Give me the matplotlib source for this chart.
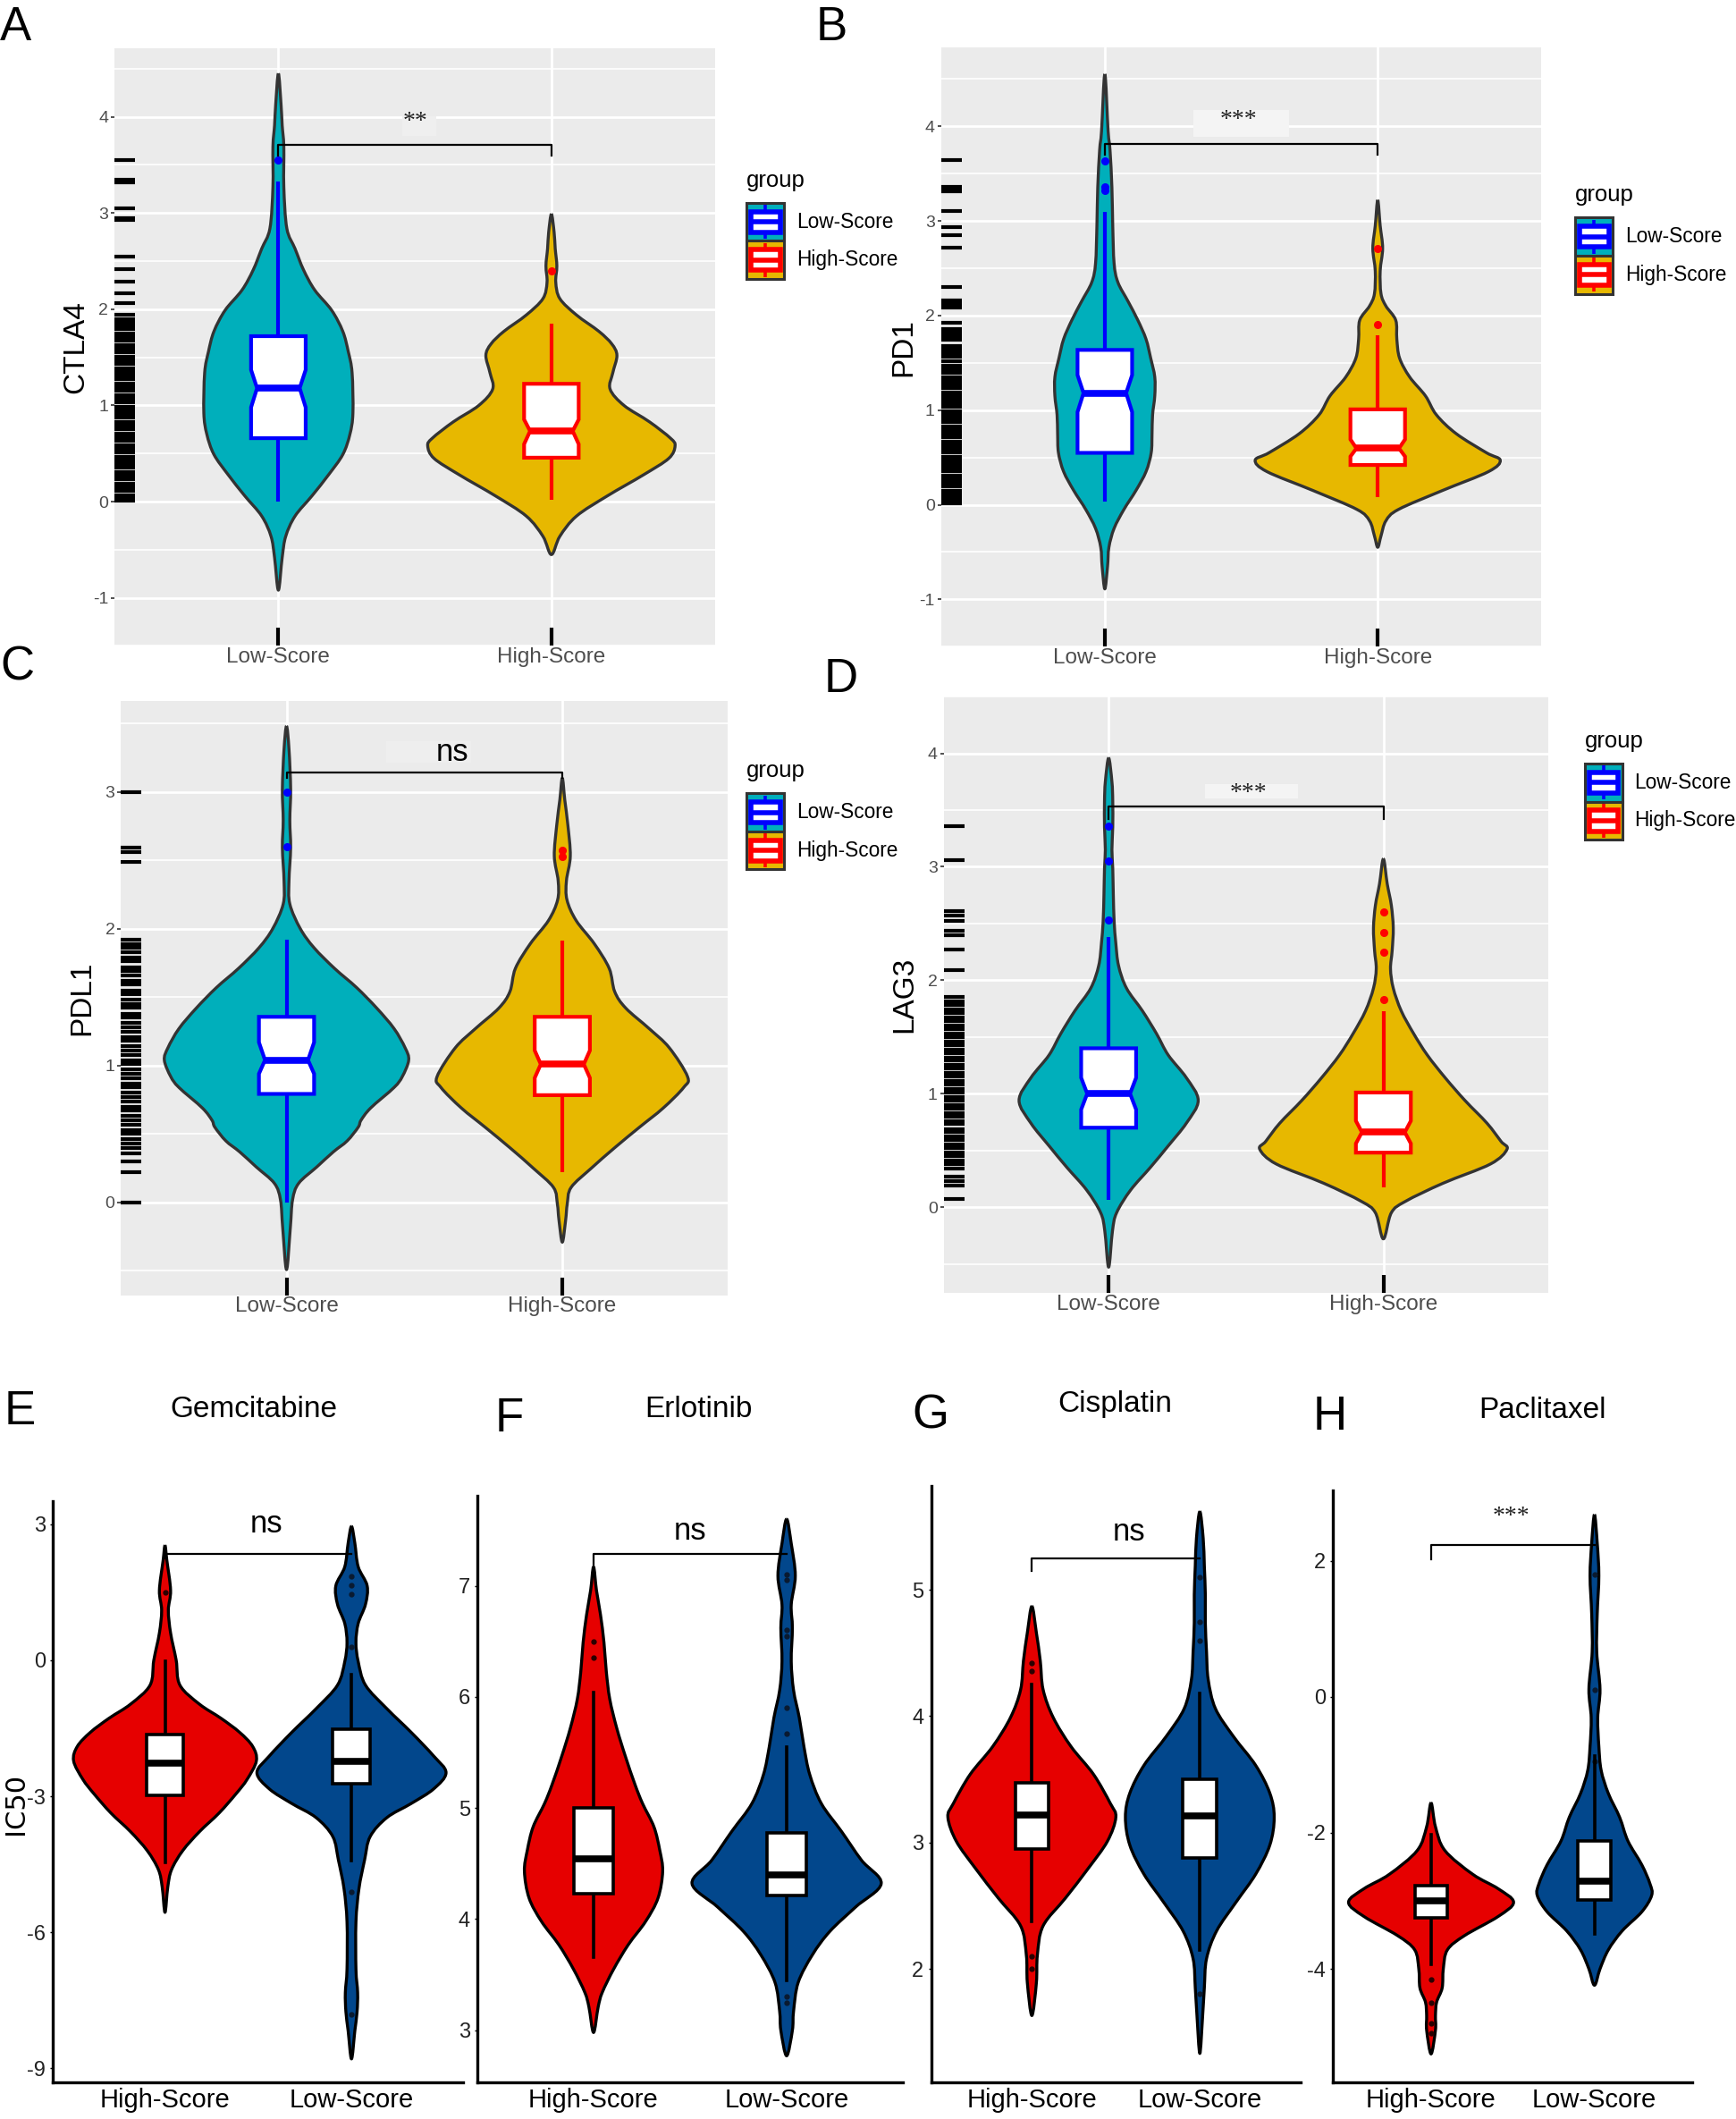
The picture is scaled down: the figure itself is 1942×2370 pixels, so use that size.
import numpy as np
import matplotlib
matplotlib.use("Agg")
import matplotlib.pyplot as plt
from matplotlib.patches import Rectangle, Polygon, PathPatch
from matplotlib.path import Path

plt.rcParams['font.family'] = ['Liberation Sans', 'DejaVu Sans']
plt.rcParams['axes.unicode_minus'] = False

# ---------------------------------------------------------------- data
top_groups = ["Low-Score", "High-Score"]
top_genes = ["CTLA4", "PD1", "PDL1", "LAG3"]
bottom_groups = ["High-Score", "Low-Score"]
drugs = ["Gemcitabine", "Erlotinib", "Cisplatin", "Paclitaxel"]
top_sig = ["**", "***", "ns", "***"]
bottom_sig = ["ns", "ns", "ns", "***"]

# violin profiles (value, half width)
A_low_y = [4.45, 4.12, 3.91, 3.69, 3.27, 2.84, 2.63, 2.41, 2.20, 1.99, 1.77, 1.56, 1.34, 0.92, 0.70, 0.49, 0.28, 0.06, -0.15, -0.36, -0.58, -0.92]
A_low_w = [0, .010, .014, .020, .020, .031, .061, .092, .133, .195, .236, .256, .270, .273, .262, .236, .184, .123, .061, .027, .014, 0]
A_high_y = [2.99, 2.80, 2.63, 2.45, 2.28, 2.11, 1.94, 1.77, 1.64, 1.52, 1.34, 1.17, 1.00, 0.83, 0.66, 0.58, 0.45, 0.28, 0.06, -0.15, -0.36, -0.55]
A_high_w = [0, .010, .014, .020, .016, .031, .092, .174, .221, .240, .225, .215, .266, .359, .436, .453, .430, .338, .205, .092, .031, 0]

B_low_y = [4.55, 3.95, 3.75, 3.35, 2.95, 2.55, 2.35, 2.15, 1.95, 1.75, 1.55, 1.35, 1.15, 0.95, 0.75, 0.55, 0.35, 0.15, -0.05, -0.25, -0.45, -0.65, -0.89]
B_low_w = [0, .012, .019, .026, .029, .034, .048, .085, .121, .151, .168, .183, .183, .175, .173, .170, .151, .114, .070, .034, .015, .010, 0]
B_high_y = [3.22, 2.95, 2.71, 2.47, 2.23, 2.10, 1.95, 1.75, 1.55, 1.35, 1.15, 0.95, 0.75, 0.55, 0.47, 0.35, 0.15, -0.05, -0.17, -0.33, -0.45]
B_high_w = [0, .009, .018, .009, .012, .030, .066, .070, .080, .117, .175, .215, .288, .398, .449, .406, .237, .076, .030, .012, 0]

C_low_y = [3.48, 3.31, 3.02, 2.79, 2.59, 2.35, 2.18, 2.00, 1.86, 1.71, 1.57, 1.42, 1.27, 1.13, 1.04, 0.92, 0.84, 0.69, 0.60, 0.55, 0.45, 0.37, 0.26, 0.14, 0.02, -0.18, -0.49]
C_low_w = [0, .009, .015, .012, .015, .009, .012, .050, .100, .174, .254, .327, .390, .430, .443, .420, .390, .305, .270, .260, .220, .170, .110, .044, .022, .014, 0]
C_high_y = [3.10, 2.94, 2.76, 2.53, 2.35, 2.21, 2.06, 1.89, 1.71, 1.54, 1.42, 1.27, 1.13, 0.92, 0.84, 0.69, 0.55, 0.40, 0.25, 0.11, -0.01, -0.13, -0.29]
C_high_w = [0, .009, .020, .029, .015, .017, .050, .116, .170, .190, .230, .315, .388, .454, .440, .366, .280, .190, .105, .032, .018, .012, 0]

D_low_y = [3.96, 3.75, 3.58, 3.35, 3.15, 2.99, 2.76, 2.52, 2.33, 2.13, 1.93, 1.73, 1.53, 1.34, 1.14, 0.94, 0.74, 0.54, 0.35, 0.15, -0.05, -0.21, -0.53]
D_low_w = [0, .012, .015, .015, .012, .015, .017, .020, .026, .036, .065, .123, .174, .217, .283, .326, .283, .217, .152, .080, .029, .014, 0]
D_high_y = [3.07, 2.85, 2.66, 2.46, 2.26, 2.10, 1.93, 1.73, 1.53, 1.34, 1.14, 0.94, 0.74, 0.58, 0.51, 0.38, 0.21, 0.05, -0.05, -0.28]
D_high_w = [0, .014, .029, .036, .032, .026, .036, .065, .110, .160, .225, .297, .377, .428, .450, .390, .217, .080, .029, 0]

# boxes: whisker low, q1, median, q3, whisker high, notch low, notch high
A_low_box = [0.00, 0.66, 1.18, 1.72, 3.33, 0.98, 1.37]
A_high_box = [0.02, 0.457, 0.734, 1.225, 1.85, 0.598, 0.854]
B_low_box = [0.03, 0.548, 1.18, 1.636, 3.09, 0.98, 1.37]
B_high_box = [0.076, 0.42, 0.596, 1.008, 1.79, 0.51, 0.69]
C_low_box = [0.00, 0.793, 1.04, 1.356, 1.92, 0.94, 1.17]
C_high_box = [0.22, 0.784, 1.01, 1.356, 1.91, 0.91, 1.11]
D_low_box = [0.066, 0.70, 1.00, 1.40, 2.38, 0.86, 1.14]
D_high_box = [0.175, 0.48, 0.66, 1.01, 1.73, 0.56, 0.76]

A_low_out = [3.55]
A_high_out = [2.40]
B_low_out = [3.32, 3.36, 3.63]
B_high_out = [1.90, 2.71]
C_low_out = [2.60, 3.00]
C_high_out = [2.53, 2.57]
D_low_out = [2.53, 3.05, 3.36]
D_high_out = [1.83, 2.25, 2.42, 2.60]

# rug (all values of the gene)
A_rug = [3.55, 3.35, 3.32, 3.05, 2.95, 2.93, 2.55, 2.42, 2.29, 2.17, 2.06,
         1.94, 1.90, 1.87, 1.83, 1.79, 1.75, 1.71, 1.67, 1.63, 1.59, 1.55, 1.51, 1.47, 1.43,
         1.39, 1.35, 1.31, 1.27, 1.23, 1.19, 1.15, 1.11, 1.07, 1.03, 0.99, 0.95, 0.91, 0.87,
         0.83, 0.79, 0.75, 0.71, 0.67, 0.63, 0.59, 0.55, 0.51, 0.47, 0.43, 0.39, 0.35, 0.31,
         0.27, 0.23, 0.19, 0.15, 0.11, 0.07, 0.04, 0.01]
B_rug = [3.64, 3.36, 3.33, 3.31, 3.10, 2.93, 2.85, 2.72, 2.30, 2.16, 2.12, 2.08, 1.92,
         1.86, 1.82, 1.78, 1.74, 1.68, 1.64, 1.60, 1.56, 1.52, 1.47, 1.43, 1.39, 1.35, 1.31,
         1.27, 1.23, 1.19, 1.15, 1.11, 1.07, 1.03, 0.99, 0.95, 0.91, 0.87, 0.83, 0.79, 0.75,
         0.71, 0.67, 0.63, 0.59, 0.55, 0.51, 0.47, 0.43, 0.39, 0.35, 0.31, 0.27, 0.23, 0.19,
         0.15, 0.11, 0.07, 0.04, 0.01]
C_rug = [3.00, 2.59, 2.56, 2.49,
         1.92, 1.89, 1.86, 1.83, 1.79, 1.76, 1.72, 1.69, 1.66, 1.62, 1.59, 1.55, 1.52, 1.48,
         1.45, 1.42, 1.38, 1.35, 1.31, 1.28, 1.25, 1.21, 1.18, 1.14, 1.11, 1.08, 1.04, 1.01,
         0.97, 0.94, 0.91, 0.87, 0.84, 0.80, 0.77, 0.74, 0.70, 0.67, 0.63, 0.60, 0.57, 0.53,
         0.50, 0.46, 0.43, 0.40, 0.36, 0.30, 0.22, 0.00]
D_rug = [3.36, 3.06, 2.61, 2.57, 2.52, 2.44, 2.40, 2.27, 2.09,
         1.85, 1.81, 1.78, 1.74, 1.71, 1.67, 1.64, 1.60, 1.57, 1.53, 1.50, 1.46, 1.43, 1.39,
         1.36, 1.32, 1.29, 1.25, 1.22, 1.18, 1.15, 1.11, 1.08, 1.04, 1.01, 0.97, 0.94, 0.90,
         0.87, 0.83, 0.80, 0.76, 0.73, 0.69, 0.66, 0.62, 0.59, 0.55, 0.52, 0.48, 0.45, 0.41,
         0.38, 0.34, 0.27, 0.23, 0.19, 0.07]

# significance bracket: y, left tick end, right tick end, label x, label y
A_bracket = [3.71, 3.60, 3.60, 1.50, 3.95]
B_bracket = [3.81, 3.70, 3.70, 1.49, 4.06]
C_bracket = [3.14, 3.10, 3.10, 1.60, 3.29]
D_bracket = [3.53, 3.42, 3.42, 1.51, 3.65]
# faint label backgrounds: x0, x1, y0, y1
A_label_bg = [1.455, 1.578, 3.80, 4.01]
B_label_bg = [1.325, 1.675, 3.89, 4.17]
C_label_bg = [1.36, 1.67, 3.21, 3.37]
D_label_bg = [1.35, 1.69, 3.60, 3.73]

# bottom panels (High-Score first, Low-Score second)
E_high_y = [2.53, 2.20, 1.54, 1.10, 0.60, 0.00, -0.55, -0.97, -1.28, -1.59, -1.90, -2.22, -2.63, -2.95, -3.37, -3.78, -4.20, -4.62, -5.00, -5.56]
E_high_w = [0, .010, .030, .018, .030, .060, .080, .185, .300, .400, .470, .490, .440, .380, .290, .185, .095, .035, .015, 0]
E_low_y = [2.95, 2.58, 2.06, 1.64, 1.23, 0.81, 0.39, -0.03, -0.55, -1.07, -1.59, -2.11, -2.48, -2.84, -3.16, -3.47, -3.89, -4.41, -5.04, -5.77, -6.81, -7.33, -7.75, -8.17, -8.79]
E_low_w = [0, .018, .036, .084, .075, .036, .024, .036, .075, .190, .320, .440, .507, .440, .320, .190, .100, .070, .040, .024, .024, .033, .030, .018, 0]
F_high_y = [7.17, 6.96, 6.74, 6.49, 6.23, 5.98, 5.72, 5.47, 5.21, 5.04, 4.83, 4.62, 4.43, 4.19, 3.98, 3.77, 3.55, 3.34, 3.21, 2.98]
F_high_w = [0, .015, .036, .054, .066, .084, .120, .164, .215, .254, .313, .343, .358, .334, .270, .180, .104, .045, .024, 0]
F_low_y = [7.60, 7.38, 7.09, 6.83, 6.62, 6.32, 6.06, 5.81, 5.55, 5.30, 5.04, 4.79, 4.53, 4.32, 4.11, 3.89, 3.68, 3.43, 3.17, 3.00, 2.77]
F_low_w = [0, .024, .045, .024, .030, .024, .036, .066, .090, .120, .180, .284, .388, .490, .358, .224, .134, .060, .036, .030, 0]
G_high_y = [4.87, 4.66, 4.44, 4.21, 3.99, 3.76, 3.54, 3.31, 3.20, 3.01, 2.79, 2.56, 2.34, 2.11, 1.89, 1.63]
G_high_w = [0, .027, .050, .067, .127, .233, .367, .467, .500, .450, .333, .200, .067, .033, .027, 0]
G_low_y = [5.62, 5.41, 5.19, 4.96, 4.74, 4.51, 4.29, 4.06, 3.84, 3.61, 3.39, 3.20, 2.98, 2.75, 2.53, 2.30, 2.08, 1.85, 1.63, 1.33]
G_low_w = [0, .020, .027, .033, .033, .040, .050, .093, .200, .333, .417, .443, .417, .333, .217, .100, .040, .027, .017, 0]
H_high_y = [-1.56, -1.91, -2.26, -2.61, -2.82, -3.02, -3.23, -3.51, -3.72, -4.00, -4.28, -4.49, -4.69, -4.90, -5.25]
H_high_w = [0, .027, .085, .256, .410, .505, .410, .205, .100, .075, .068, .034, .027, .027, 0]
H_low_y = [2.68, 2.26, 1.78, 1.22, 0.66, 0.11, -0.31, -0.73, -1.08, -1.42, -1.77, -2.12, -2.47, -2.75, -2.92, -3.16, -3.44, -3.72, -4.00, -4.24]
H_low_w = [0, .017, .027, .017, .014, .034, .020, .027, .041, .085, .154, .205, .290, .340, .350, .290, .170, .085, .034, 0]

# boxes: whisker low, q1, median, q3, whisker high
E_high_box = [-4.46, -2.98, -2.27, -1.64, -0.02]
E_low_box = [-4.41, -2.72, -2.24, -1.52, -0.32]
F_high_box = [3.66, 4.23, 4.54, 5.00, 6.04]
F_low_box = [3.45, 4.21, 4.40, 4.78, 5.55]
G_high_box = [2.375, 2.95, 3.22, 3.47, 4.25]
G_low_box = [2.15, 2.88, 3.21, 3.50, 4.18]
H_high_box = [-3.93, -3.25, -3.00, -2.77, -2.02]
H_low_box = [-3.48, -2.99, -2.71, -2.12, -0.87]

E_high_out = [1.50]
E_low_out = [1.85, 1.65, 1.45, 0.30, -5.10, -7.80]
F_high_out = [6.35, 6.50]
F_low_out = [7.10, 7.05, 6.60, 6.55, 5.90, 5.67, 3.30, 3.25]
G_high_out = [4.36, 4.42, 2.10, 2.00]
G_low_out = [5.10, 4.75, 4.60, 1.80]
H_high_out = [-4.15, -4.50, -4.80, -4.95]
H_low_out = [1.80, 0.10, -0.95]

E_bracket = [2.35, 2.25, 2.35, 1.546, 3.00]
F_bracket = [7.29, 7.17, 7.29, 1.50, 7.49]
G_bracket = [5.25, 5.15, 5.25, 1.58, 5.46]
H_bracket = [2.23, 2.02, 2.23, 1.49, 2.65]

E_ticks = [-9, -6, -3, 0, 3]
F_ticks = [3, 4, 5, 6, 7]
G_ticks = [2, 3, 4, 5]
H_ticks = [-4, -2, 0, 2]
top_ticks = [[-1, 0, 1, 2, 3, 4], [-1, 0, 1, 2, 3, 4], [0, 1, 2, 3], [0, 1, 2, 3, 4]]

# ---------------------------------------------------------------- style
TEAL, GOLD = '#00AFBB', '#E7B800'
BLUE, RED = '#0000FF', '#FF0000'
VRED, VBLUE = '#E60000', '#02478C'
OUTLINE = '#333333'

W, H = 1285.0, 1568.0
fig = plt.figure(figsize=(19.42, 23.70), dpi=100)


def rect(l, t, r, b):
    return [l / W, 1 - b / H, (r - l) / W, (b - t) / H]


def smooth_closed_path(P):
    """Closed Catmull-Rom curve through the given outline points, as cubic Beziers."""
    P = np.asarray(P, float)
    n = len(P)
    verts = [P[0]]
    codes = [Path.MOVETO]
    for i in range(n):
        p0, p1, p2, p3 = P[i - 1], P[i], P[(i + 1) % n], P[(i + 2) % n]
        verts += [p1 + (p2 - p0) / 6.0, p2 - (p3 - p1) / 6.0, p2]
        codes += [Path.CURVE4] * 3
    return Path(verts, codes)


def violin(ax, x, ys, ws, fc, ec, lw):
    ys = np.asarray(ys, float)
    ws = np.asarray(ws, float)
    left = np.column_stack([x - ws, ys])
    right = np.column_stack([x + ws, ys])[::-1][1:-1]
    pts = np.vstack([left, right])
    ax.add_patch(PathPatch(smooth_closed_path(pts), facecolor=fc, edgecolor=ec, lw=lw,
                           joinstyle='round', zorder=2))


def notched(ax, x, box, col, hw=0.10, nf=0.78):
    lo, q1, med, q3, hi, nlo, nhi = box
    ax.plot([x, x], [lo, q1], color=col, lw=3.0, zorder=3, solid_capstyle='butt')
    ax.plot([x, x], [q3, hi], color=col, lw=3.0, zorder=3, solid_capstyle='butt')
    pts = [(x - hw, q1), (x - hw, nlo), (x - hw * nf, med), (x - hw, nhi), (x - hw, q3),
           (x + hw, q3), (x + hw, nhi), (x + hw * nf, med), (x + hw, nlo), (x + hw, q1)]
    ax.add_patch(Polygon(pts, closed=True, facecolor='white', edgecolor=col, lw=3.0, zorder=4))
    ax.plot([x - hw * nf, x + hw * nf], [med, med], color=col, lw=5.5, zorder=5, solid_capstyle='butt')


def plain_box(ax, x, box, hw=0.10):
    lo, q1, med, q3, hi = box
    ax.plot([x, x], [lo, hi], color='black', lw=2.6, zorder=3)
    ax.add_patch(Rectangle((x - hw, q1), 2 * hw, q3 - q1, facecolor='white', edgecolor='black', lw=2.6, zorder=4))
    ax.plot([x - hw, x + hw], [med, med], color='black', lw=5.5, zorder=5, solid_capstyle='butt')


def bracket(ax, br, lab, serif, fs, bg=None, bgcol='#F3F3F3'):
    y, ly, ry, tx, ty = br
    if bg is not None:
        x0, x1, y0, y1 = bg
        ax.add_patch(Rectangle((x0, y0), x1 - x0, y1 - y0, facecolor=bgcol, edgecolor='none', zorder=1.5))
    ax.plot([1, 1, 2, 2], [ly, y, y, ry], color='black', lw=1.6, zorder=6)
    kw = dict(ha='center', va='center', fontsize=fs, zorder=7, color='#222222' if serif else 'black')
    if serif:
        kw['family'] = ['Liberation Serif', 'DejaVu Serif']
    ax.text(tx, ty, lab, **kw)


# ---------------------------------------------------------------- top panels
top_rects = [rect(84.8, 35.9, 529.4, 478.0), rect(696.6, 35.3, 1141.0, 478.5),
             rect(89.6, 518.5, 538.7, 958.7), rect(698.6, 515.5, 1146.0, 957.0)]
top_ylims = [(-1.17, 4.71), (-1.17, 4.83), (-0.68, 3.665), (-0.76, 4.17)]
top_viol = [(A_low_y, A_low_w, A_high_y, A_high_w), (B_low_y, B_low_w, B_high_y, B_high_w),
            (C_low_y, C_low_w, C_high_y, C_high_w), (D_low_y, D_low_w, D_high_y, D_high_w)]
top_box = [(A_low_box, A_high_box), (B_low_box, B_high_box), (C_low_box, C_high_box), (D_low_box, D_high_box)]
top_out = [(A_low_out, A_high_out), (B_low_out, B_high_out), (C_low_out, C_high_out), (D_low_out, D_high_out)]
top_rug = [A_rug, B_rug, C_rug, D_rug]
top_br = [A_bracket, B_bracket, C_bracket, D_bracket]
top_bg = [A_label_bg, B_label_bg, C_label_bg, D_label_bg]
top_bgcol = ['#EFEFEF', '#F4F4F4', '#EEEEEE', '#F4F4F4']
ylabel_x = [-0.041, -0.040, -0.042, -0.042]

for i in range(4):
    ax = fig.add_axes(top_rects[i])
    ax.set_facecolor('#EBEBEB')
    for s in ax.spines.values():
        s.set_visible(False)
    ax.set_xlim(0.4, 2.6)
    ax.set_ylim(*top_ylims[i])
    ax.set_yticks(top_ticks[i])
    ax.set_yticks([t + 0.5 for t in top_ticks[i]] + [top_ticks[i][0] - 0.5], minor=True)
    ax.set_xticks([1, 2])
    ax.set_xticklabels(top_groups)
    ax.grid(True, which='major', color='white', lw=2.0)
    ax.grid(True, which='minor', axis='y', color='white', lw=1.2)
    ax.set_axisbelow(True)
    ax.tick_params(axis='y', which='major', length=3, width=1.2, color='#333333', pad=2,
                   labelsize=14, labelcolor='#4D4D4D')
    ax.tick_params(axis='y', which='minor', length=0)
    ax.tick_params(axis='x', length=0, pad=1, labelsize=17.5, labelcolor='#4D4D4D')
    ax.set_ylabel(top_genes[i], fontsize=24)
    ax.yaxis.set_label_coords(ylabel_x[i], 0.5)
    ly, lw_, hy, hw_ = top_viol[i]
    violin(ax, 1, ly, lw_, TEAL, OUTLINE, 2.4)
    violin(ax, 2, hy, hw_, GOLD, OUTLINE, 2.4)
    notched(ax, 1, top_box[i][0], BLUE)
    notched(ax, 2, top_box[i][1], RED)
    ax.plot([1] * len(top_out[i][0]), top_out[i][0], 'o', color=BLUE, ms=5.5, zorder=6)
    ax.plot([2] * len(top_out[i][1]), top_out[i][1], 'o', color=RED, ms=5.5, zorder=6)
    ax.hlines(top_rug[i], 0, 0.034, transform=ax.get_yaxis_transform(), color='black', lw=3.0, zorder=3)
    ax.vlines([1, 2], 0, 0.03, transform=ax.get_xaxis_transform(), color='black', lw=3.0, zorder=3)
    if top_sig[i] == 'ns':
        bracket(ax, top_br[i], top_sig[i], False, 25, bg=top_bg[i], bgcol=top_bgcol[i])
    else:
        bracket(ax, top_br[i], top_sig[i], True, 20, bg=top_bg[i], bgcol=top_bgcol[i])

# ---------------------------------------------------------------- bottom panels
bot_rects = [rect(39.3, 1111.0, 343.0, 1541.0), rect(353.6, 1106.8, 668.0, 1541.0),
             rect(689.2, 1099.8, 962.7, 1541.0), rect(986.7, 1102.6, 1252.8, 1541.0)]
bot_ylims = [(-9.31, 3.50), (2.53, 7.81), (1.10, 5.82), (-5.67, 3.04)]
bot_ticks = [E_ticks, F_ticks, G_ticks, H_ticks]
bot_viol = [(E_high_y, E_high_w, E_low_y, E_low_w), (F_high_y, F_high_w, F_low_y, F_low_w),
            (G_high_y, G_high_w, G_low_y, G_low_w), (H_high_y, H_high_w, H_low_y, H_low_w)]
bot_box = [(E_high_box, E_low_box), (F_high_box, F_low_box), (G_high_box, G_low_box), (H_high_box, H_low_box)]
bot_out = [(E_high_out, E_low_out), (F_high_out, F_low_out), (G_high_out, G_low_out), (H_high_out, H_low_out)]
bot_br = [E_bracket, F_bracket, G_bracket, H_bracket]

for i in range(4):
    ax = fig.add_axes(bot_rects[i])
    ax.set_facecolor('white')
    ax.spines['top'].set_visible(False)
    ax.spines['right'].set_visible(False)
    ax.spines['left'].set_linewidth(2.4)
    ax.spines['bottom'].set_linewidth(2.4)
    ax.set_xlim(0.4, 2.6)
    ax.set_ylim(*bot_ylims[i])
    ax.set_yticks(bot_ticks[i])
    ax.set_yticklabels([str(t) for t in bot_ticks[i]])
    ax.set_xticks([1, 2])
    ax.set_xticklabels(bottom_groups)
    ax.tick_params(axis='y', length=2, width=1, pad=4, labelsize=17, labelcolor='#222222')
    ax.tick_params(axis='x', length=0, pad=4, labelsize=21, labelcolor='black')
    hy, hw_, ly, lw_ = bot_viol[i]
    violin(ax, 1, hy, hw_, VRED, 'black', 2.4)
    violin(ax, 2, ly, lw_, VBLUE, 'black', 2.4)
    plain_box(ax, 1, bot_box[i][0])
    plain_box(ax, 2, bot_box[i][1])
    ax.plot([1] * len(bot_out[i][0]), bot_out[i][0], 'o', color='#2a0000', ms=3.5, zorder=2.5)
    ax.plot([2] * len(bot_out[i][1]), bot_out[i][1], 'o', color='#0a1a30', ms=3.5, zorder=2.5)
    if bottom_sig[i] == 'ns':
        bracket(ax, bot_br[i], bottom_sig[i], False, 25)
    else:
        bracket(ax, bot_br[i], bottom_sig[i], True, 20)
    if i == 0:
        ax.set_ylabel('IC50', fontsize=22, family=['DejaVu Sans'])
        ax.yaxis.set_label_coords(-0.060, 0.48)

# ---------------------------------------------------------------- overlay texts
ov = fig.add_axes([0, 0, 1, 1], zorder=20)
ov.set_xlim(0, W)
ov.set_ylim(H, 0)
ov.axis('off')

letters = [("A", 0, 30), ("B", 604, 30), ("C", 0, 503), ("D", 610, 512),
           ("E", 3, 1054), ("F", 366, 1059), ("G", 675, 1057), ("H", 972, 1058)]
for t, x, y in letters:
    ov.text(x, y, t, fontsize=38, ha='left', va='baseline')

title_pos = [(188, 1043), (517, 1043), (825, 1039), (1142, 1044)]
for t, (x, y) in zip(drugs, title_pos):
    ov.text(x, y, t, fontsize=24, ha='center', va='center')

legend_pos = [(552.6, 133.5, 150.0), (1166.0, 144.5, 161.0), (552.6, 570.5, 587.0), (1173.0, 548.5, 565.0)]
key_fill = [TEAL, GOLD]
key_edge = [BLUE, RED]
for x0, yg, yk in legend_pos:
    ov.text(x0, yg, "group", fontsize=18.5, ha='left', va='center')
    for k in range(2):
        top = yk + k * 28.2
        ov.add_patch(Rectangle((x0, top), 28.0, 28.2, facecolor=key_fill[k], edgecolor=OUTLINE, lw=2.2))
        cx = x0 + 14.0
        ov.plot([cx, cx], [top + 1.5, top + 6.5], color=key_edge[k], lw=2.6, solid_capstyle='butt')
        ov.plot([cx, cx], [top + 21.8, top + 26.7], color=key_edge[k], lw=2.6, solid_capstyle='butt')
        ov.add_patch(Rectangle((x0 + 3.2, top + 6.5), 21.6, 15.3, facecolor='white', edgecolor=key_edge[k], lw=4.0))
        ov.plot([x0 + 3.2, x0 + 24.8], [top + 14.1, top + 14.1], color=key_edge[k], lw=4.0, solid_capstyle='butt')
        ov.text(x0 + 36.9, top + 14.1, top_groups[k], fontsize=16.3, ha='left', va='center')

fig.savefig("out.png", dpi=100)
